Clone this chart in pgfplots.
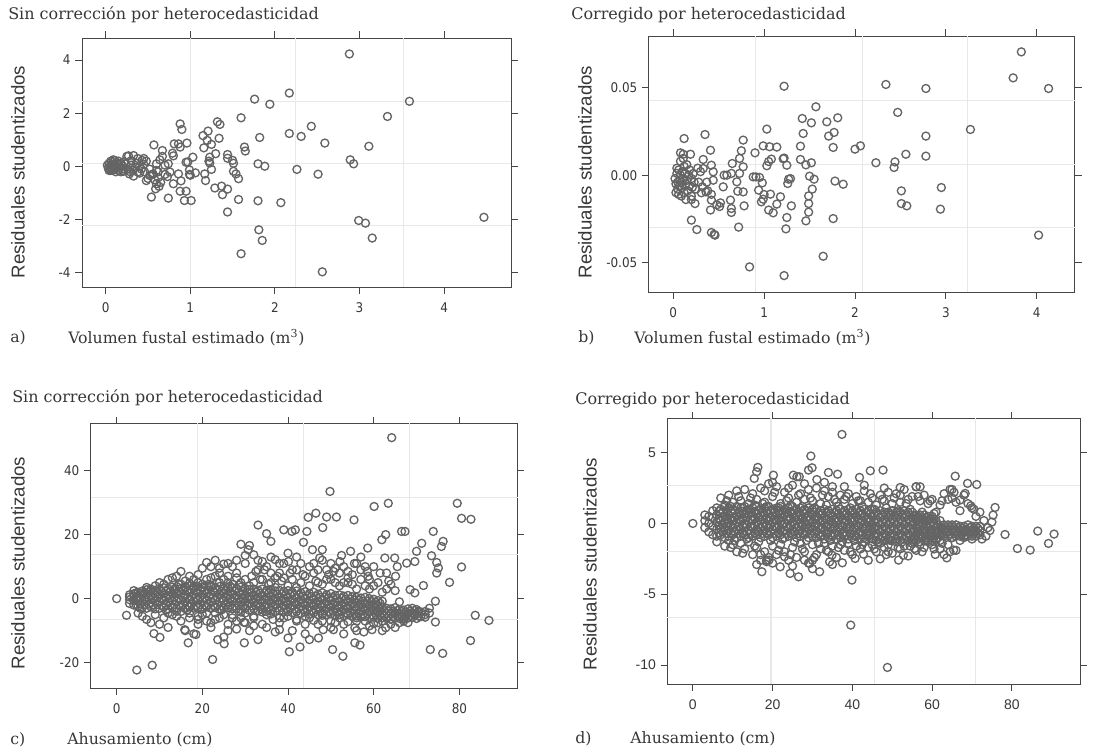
\documentclass[border=0pt]{standalone}
\usepackage{fontspec}
\usepackage{pgfplots}
\pgfplotsset{compat=1.18}
\setmainfont{DejaVu Serif}
\newfontfamily\tickfont{DejaVu Sans Condensed}
\newfontfamily\labfont{Liberation Sans}
\definecolor{mk}{RGB}{100,100,100}
\definecolor{txt}{RGB}{55,55,55}
\definecolor{frame}{RGB}{70,70,70}
\definecolor{gridc}{RGB}{232,232,232}

\pgfplotsset{
  resid/.style={
    scale only axis,
    anchor=south west,
    axis line style={frame, line width=0.7pt},
    tick align=outside,
    tick pos=both,
    xticklabel pos=lower,
    yticklabel pos=left,
    major tick length=5pt,
    every tick/.style={frame, line width=0.7pt},
    /pgf/number format/assume math mode=true,
    ticklabel style={font=\tickfont\fontsize{10}{12}\selectfont, text=txt},
    xticklabel style={yshift=-3pt},
    scaled ticks=false,
    extra x tick labels={},
    extra y tick labels={},
    extra tick style={grid=major, major grid style={gridc, line width=0.8pt}, major tick length=0pt},
    clip=true,
  },
  pts/.style={only marks, mark=o, mark size=3pt, mark options={draw=mk, line width=1pt}},
}

\begin{document}
\begin{tikzpicture}
\path (0pt,0pt) rectangle (835.5pt,564pt);

% ---------- a) volumen, sin correccion
\begin{axis}[resid, at={(61.5pt,348.75pt)}, width=321.75pt, height=186.75pt,
  xmin=-0.28, xmax=4.79, ymin=-4.53, ymax=4.83,
  xtick={0,1,2,3,4}, ytick={-4,-2,0,2,4},
  extra x ticks={1,2.24,3.52}, extra y ticks={-2.22,0.12,2.45}]
\addplot[pts] coordinates {
(0.02,0.05) (0.03,-0.05) (0.04,0.12) (0.05,0.0) (0.05,-0.1) (0.06,0.2) (0.07,0.05) (0.07,-0.08)
(0.08,0.15) (0.09,-0.03) (0.1,0.08) (0.1,-0.12) (0.11,0.22) (0.12,0.0) (0.13,-0.06) (0.14,0.1)
(0.15,-0.15) (0.16,0.05) (0.17,-0.02) (0.18,0.12) (0.19,-0.1) (0.2,0.02) (0.21,-0.18) (0.22,0.18)
(0.06,-0.15) (0.09,0.25) (0.12,-0.2) (0.15,0.2) (0.18,-0.2) (0.04,-0.15)
(0.25,0.38) (0.27,0.4) (0.3,0.22) (0.33,0.41) (0.35,-0.03) (0.28,-0.28) (0.33,-0.36) (0.38,-0.21)
(0.4,-0.25) (0.43,0.23) (0.45,0.08) (0.48,-0.53) (0.52,-0.34) (0.56,-0.28) (0.6,-0.15) (0.26,-0.1)
(0.3,0.05) (0.32,-0.15) (0.36,0.12) (0.4,0.0) (0.42,-0.1) (0.38,0.3) (0.46,-0.2) (0.5,-0.45)
(0.24,0.1) (0.29,-0.2)
(0.55,-0.3) (0.58,-0.5) (0.62,-0.2) (0.62,-0.42) (0.65,-0.6) (0.6,0.1) (0.64,0.25) (0.7,0.05)
(0.7,-0.3) (0.52,-0.1) (0.48,0.2) (0.45,0.3)
(0.57,0.81) (0.67,0.6) (0.67,0.38) (0.79,0.5) (0.8,0.4) (0.81,0.85) (0.86,0.85) (0.88,0.73)
(0.96,0.88) (0.88,1.6) (0.9,1.39) (1.32,1.68) (1.35,1.58) (1.15,1.16) (1.21,1.33) (1.34,1.06)
(1.16,0.7) (1.2,0.98) (1.25,0.83) (1.3,0.48) (1.23,0.35) (1.23,0.13) (1.22,0.2) (1.25,-0.11)
(1.44,0.45) (1.44,0.31) (1.5,0.23) (1.51,0.12) (1.51,-0.18) (1.54,-0.28) (1.57,-0.46) (1.17,-0.28)
(1.18,-0.53) (1.03,0.35) (0.95,0.16) (0.97,0.17) (0.99,-0.13) (0.99,-0.3) (1.06,-0.24) (1.0,-0.33)
(0.86,-0.28) (0.89,-0.54) (0.88,-0.93) (0.95,-0.93) (0.93,-1.28) (1.01,-1.28) (0.8,-0.65) (0.74,-1.19)
(0.54,-1.15) (0.6,-0.65) (0.63,-0.75) (0.59,-0.84) (0.73,-0.38) (0.76,-0.21) (0.74,0.1) (1.29,-0.81)
(1.37,-0.74) (1.38,-1.06) (1.44,-0.85) (1.44,-1.71) (1.57,-1.24) (1.6,1.83) (1.64,0.73) (1.65,0.58)
(1.76,2.53) (1.94,2.34) (2.17,2.76) (2.88,4.23) (3.59,2.45) (3.33,1.88) (2.43,1.51) (2.17,1.24)
(2.31,1.13) (2.59,0.88) (3.11,0.76) (1.82,1.09) (2.89,0.25) (2.93,0.1) (1.8,0.1) (1.88,0.01)
(2.26,-0.11) (2.51,-0.29) (2.07,-1.36) (1.8,-1.29) (1.81,-2.38) (1.85,-2.78) (1.6,-3.28) (2.56,-3.96)
(2.99,-2.03) (3.07,-2.13) (3.15,-2.69) (4.47,-1.91)
};
\end{axis}

% ---------- b) volumen, corregido
\begin{axis}[resid, at={(486.5pt,345pt)}, width=319.7pt, height=192pt,
  xmin=-0.27, xmax=4.42, ymin=-0.067, ymax=0.0798,
  xtick={0,1,2,3,4}, ytick={-0.05,0,0.05},
  yticklabel style={/pgf/number format/.cd, fixed, fixed zerofill, precision=2},
  extra x ticks={0.91,2.08,3.24}, extra y ticks={-0.0302,0.0063,0.0426}]
\addplot[pts] coordinates {
(0.02,-0.002) (0.03,-0.005) (0.04,0.001) (0.05,-0.004) (0.05,-0.008) (0.06,0.003) (0.07,-0.003)
(0.07,-0.006) (0.08,0.0) (0.09,-0.004) (0.1,-0.007) (0.1,0.002) (0.11,-0.002) (0.12,-0.01)
(0.13,0.001) (0.14,-0.005) (0.15,-0.003) (0.16,-0.009) (0.17,0.0) (0.18,-0.006) (0.2,-0.002)
(0.21,-0.007) (0.22,0.001) (0.04,0.004) (0.06,-0.011) (0.08,0.008) (0.09,-0.012) (0.12,0.005)
(0.15,0.006) (0.18,0.003) (0.2,-0.012) (0.23,-0.004) (0.03,-0.01) (0.14,-0.014) (0.11,0.012)
(3.83,0.0707) (3.74,0.0558) (4.13,0.0497) (4.02,-0.0344) (3.27,0.0262) (2.78,0.0497) (2.34,0.052)
(1.22,0.051) (2.47,0.036) (2.78,0.0224) (2.78,0.0109) (2.56,0.012) (2.23,0.0071) (2.44,0.0076)
(2.43,0.0044) (2.95,-0.0071) (2.94,-0.0195) (2.51,-0.009) (2.51,-0.0163) (2.57,-0.0176) (2.0,0.0149)
(2.06,0.0168) (1.81,0.0329) (1.77,0.0245) (1.71,0.0224) (1.69,0.0306) (1.57,0.0392) (1.52,0.03)
(1.42,0.0325) (1.43,0.0239) (1.4,0.0166) (1.4,0.009) (1.46,0.0059) (1.52,0.0071) (1.76,0.0159)
(1.78,-0.0034) (1.87,-0.0052) (1.55,-0.0023) (1.53,-0.008) (1.5,-0.0006) (1.49,-0.0119)
(1.49,-0.0163) (1.49,-0.0212) (1.46,-0.0262) (1.76,-0.0249) (1.65,-0.0465) (1.22,-0.0576)
(0.84,-0.0526) (1.24,-0.0308) (1.25,-0.0243) (1.3,-0.0176) (1.18,-0.0124) (1.14,-0.0166)
(1.1,-0.0216) (1.05,-0.02) (1.07,-0.0109) (1.0,-0.0111) (0.99,-0.0138) (0.97,-0.0153)
(0.94,-0.0086) (0.98,-0.0044) (0.95,-0.0013) (0.88,-0.001) (0.91,-0.001) (1.27,-0.0023)
(1.29,-0.002) (1.26,-0.0048) (1.25,0.0057) (1.21,0.0094) (1.22,0.0098) (1.08,0.0092) (1.03,0.0054)
(1.05,0.0078) (0.99,0.0168) (1.06,0.0163) (1.14,0.0161) (1.03,0.0264) (0.9,0.0128) (0.77,0.0201)
(0.75,0.014) (0.73,0.0096) (0.77,0.0048) (0.73,0.001) (0.7,-0.0038) (0.71,-0.0092) (0.77,-0.0096)
(0.78,-0.0176) (0.72,-0.0298) (0.64,0.001) (0.65,0.0067) (0.59,0.0) (0.56,0.0) (0.55,-0.0067)
(0.63,-0.0143) (0.64,-0.0191) (0.64,-0.0214) (0.52,-0.0159) (0.51,-0.018) (0.48,-0.017)
(0.46,-0.0344) (0.42,-0.0329) (0.45,-0.034) (0.41,-0.02) (0.42,-0.0143) (0.42,-0.011)
(0.44,-0.0029) (0.44,0.0019) (0.42,0.0057) (0.41,0.0143) (0.35,0.0233) (0.33,0.009) (0.33,0.0038)
(0.32,-0.0067) (0.36,-0.0096) (0.38,-0.009) (0.31,-0.0101) (0.26,-0.0312) (0.2,-0.0258)
(0.24,-0.0163) (0.2,-0.014) (0.19,0.012) (0.12,0.021) (0.08,0.0128) (0.11,0.0096)
(0.28,-0.004) (0.3,0.002) (0.25,-0.008) (0.37,-0.004) (0.27,0.004)
};
\end{axis}

% ---------- c) ahusamiento, sin correccion
\begin{axis}[resid, at={(68pt,47.8pt)}, width=320.25pt, height=198.75pt,
  xmin=-6.07, xmax=93.6, ymin=-28, ymax=54.8,
  xtick={0,20,40,60,80}, ytick={-20,0,20,40},
  extra x ticks={18.9,43.6,68.3}, extra y ticks={-6.6,13.9,31.5}]
\addplot[pts] coordinates {
(3,-1.5) (3,0.5) (3,1.2) (3,-0.3) (4,-2.0) (4,-0.5) (4,0.8) (4,1.5) (5,-2.4) (5,-0.8) (5,0.6) (5,2.0)
(6,-2.8) (6,-1.0) (6,1.0) (6,2.4) (7,-3.0) (7,-0.6) (7,1.2) (7,2.8) (8,-2.6) (8,-1.2) (8,0.8) (8,3.0)
(9,-3.2) (9,-0.8) (9,1.0) (9,2.6) (10,-3.0) (10,-1.0) (10,1.3) (10,3.2) (11,-2.6) (11,-0.5) (11,1.6) (11,3.4)
(12,-3.2) (12,-1.0) (12,1.0) (12,3.0) (13,-2.8) (13,-0.6) (13,1.5) (13,3.6) (14,-3.0) (14,-0.8) (14,1.8) (14,3.8)
(15,-2.5) (15,-0.4) (15,1.4) (15,3.2) (16,-3.1) (16,-1.0) (16,1.2) (16,3.6) (17,-2.6) (17,-0.2) (17,1.8) (17,4.0)
(18,-3.0) (18,-0.8) (18,1.5) (18,3.4) (19,-2.8) (19,-0.3) (19,1.8) (19,3.8) (20,-3.2) (20,-0.6) (20,1.2) (20,3.5)
(21,-2.6) (21,-0.4) (21,1.6) (21,4.0) (22,-3.0) (22,-1.0) (22,1.4) (22,3.6) (23,-2.8) (23,-0.5) (23,1.8) (23,3.4)
(24,-3.4) (24,-0.8) (24,1.2) (24,3.8) (25,-3.0) (25,-0.6) (25,1.5) (25,3.2) (26,-2.8) (26,-1.0) (26,1.0) (26,3.6)
(27,-3.2) (27,-0.7) (27,1.4) (27,3.4) (28,-3.0) (28,-1.2) (28,0.9) (28,3.0) (29,-3.4) (29,-0.9) (29,1.2) (29,3.6)
(30,-3.0) (30,-1.0) (30,1.0) (30,3.2) (31,-3.6) (31,-1.4) (31,0.6) (31,2.8) (32,-3.2) (32,-1.2) (32,1.0) (32,3.0)
(33,-3.8) (33,-1.5) (33,0.5) (33,2.6) (34,-3.4) (34,-1.2) (34,0.8) (34,3.0) (35,-4.0) (35,-1.6) (35,0.4) (35,2.6)
(36,-3.6) (36,-1.4) (36,0.6) (36,2.8) (37,-4.0) (37,-1.8) (37,0.2) (37,2.4) (38,-3.8) (38,-1.5) (38,0.5) (38,2.6)
(39,-4.2) (39,-2.0) (39,0.0) (39,2.2) (40,-4.0) (40,-1.8) (40,0.3) (40,2.5) (41,-4.4) (41,-2.2) (41,-0.2) (41,2.0)
(42,-4.0) (42,-1.8) (42,0.2) (42,2.4) (43,-4.6) (43,-2.4) (43,-0.4) (43,1.8) (44,-4.2) (44,-2.0) (44,0.0) (44,2.2)
(45,-4.8) (45,-2.5) (45,-0.5) (45,1.6) (46,-4.4) (46,-2.2) (46,-0.2) (46,2.0) (47,-5.0) (47,-2.8) (47,-0.8) (47,1.4)
(48,-4.6) (48,-2.4) (48,-0.4) (48,1.8) (49,-5.0) (49,-3.0) (49,-1.0) (49,1.2) (50,-4.8) (50,-2.6) (50,-0.6) (50,1.6)
(51,-5.2) (51,-3.2) (51,-1.2) (51,1.0) (52,-5.0) (52,-2.8) (52,-0.8) (52,1.2) (53,-5.4) (53,-3.4) (53,-1.4) (53,0.8)
(54,-5.0) (54,-3.0) (54,-1.0) (54,1.0) (55,-5.6) (55,-3.6) (55,-1.6) (55,0.6) (56,-5.4) (56,-3.4) (56,-1.4) (56,0.4)
(57,-5.8) (57,-3.8) (57,-1.8) (57,0.2) (58,-5.6) (58,-3.6) (58,-1.6) (58,0.4) (59,-6.0) (59,-4.0) (59,-2.0) (59,0.0)
(60,-5.8) (60,-3.8) (60,-2.2) (60,-0.2) (61,-6.2) (61,-4.2) (61,-2.4) (61,-0.6) (62,-6.0) (62,-4.4) (62,-2.6) (62,-0.8)
(63,-6.2) (63,-4.6) (63,-3.0) (64,-6.4) (64,-4.8) (64,-3.2) (65,-6.0) (65,-4.4) (65,-2.8) (66,-6.2) (66,-4.6) (66,-3.4)
(67,-6.4) (67,-5.0) (67,-3.6) (68,-6.0) (68,-4.6) (68,-3.2) (69,-5.8) (69,-4.4) (69,-3.0) (70,-6.2) (70,-4.8) (70,-3.4)
(71,-5.6) (71,-4.2) (72,-5.8) (72,-4.0) (73,-4.5)
(4,2.5) (5,-4.5) (6,-5.5) (7,3.5) (7,-6.5) (8,-7.5) (9,-5) (9,4) (10,-8) (6,1.8) (8,2.5) (10,5) (5.5,-3)
(11,-6) (11,4.5) (12,6) (12,-9) (13,-5) (13,6.5) (14,7) (14,-4) (15,8.5) (15,-7) (16,5.5) (16,-10) (17,7) (17,-6)
(18,-11) (18,6) (19,7.5) (19,-8) (20,9.5) (20,-5) (13.5,3) (16.5,-3.5) (18.5,-2.5) (11.5,-3.5) (14.5,4.5)
(21,11.3) (21,-7) (22,6.5) (22,-9) (23,12) (23,-4.5) (24,8) (24,-6) (25,10.8) (25,-12) (26,5) (26,-8) (27,10) (27,-5)
(28,6.5) (28,-9.5) (29,17) (29,-6) (30,11) (30,-7.5) (21.5,4.5) (23.5,5) (26.5,3.8) (28.5,4.2) (24.5,-3.5)
(31,16.6) (31,-10) (32,13.7) (32,-6) (33,23) (33,-12.8) (34,11.6) (34,-8) (35,20.3) (35,-5) (36,17.9) (36,8)
(37,12.2) (37,-10.4) (38,11) (38,-9.7) (39,21.5) (39,-6) (40,14.2) (40,-12.3) (30.7,15.3) (33.5,6) (35.5,4.5)
(37.5,7) (32.5,8.5) (38.5,5.5) (36.5,-6.5)
(40.3,-16.6) (40.9,21) (41.7,21.5) (40.1,11.6) (42,9) (42.8,-15.1) (43.6,17.6) (44.4,21) (44.7,25.4) (45,-12.8)
(45.7,15.3) (46.5,26.7) (47.1,-12.3) (47.4,12.7) (48.1,22.2) (48.2,-9.7) (49,25.5) (48,15.3) (41,6) (43,5)
(44,-8) (46,8) (47,5) (49,9) (42,-7) (45,-6) (48,-7) (50,6)
(49.8,33.5) (50.6,8.5) (50.6,-9.7) (50.4,-15.9) (51.3,25.5) (52.1,11.6) (52.8,-18) (54.6,14.8) (55.4,24.6)
(55.6,-13.8) (56.8,-14.5) (57.7,-10.4) (55.6,-9.1) (58.6,15.8) (58.7,7) (59.6,-9.7) (53,5) (54,8.5) (56,11)
(57,6) (52,4) (55,4.5) (58,10) (59,3) (53,-8) (56,-7) (60,4) (51,-7.5)
(60.1,28.8) (61.9,18.4) (62.8,20) (62.6,12.7) (62.8,-9.1) (63.4,29.8) (64.2,50.3) (64.9,12.7) (65.1,7) (66.5,21)
(67.3,21) (67.7,11.1) (68.5,2.8) (69.6,1.8) (69.6,11.6) (70,14.8) (61,5) (63,3) (64,-6.5) (66,-5.5) (65,2.5)
(67,-7) (68,-6) (61,-7.5) (63,8) (60.5,-2) (66,-1)
(71.2,17.3) (71.6,4.1) (73.2,-15.9) (73.5,13.4) (73.9,21) (74.4,-0.8) (74.4,-7.3) (74.7,11.3) (75.1,9.6)
(74.7,8) (75.8,16.3) (76.1,-17.1) (76.2,17.9) (77.7,5.1) (79.5,29.8) (80.5,25.1) (80.5,9.9) (82.6,-13.1)
(82.7,24.8) (83.7,-5.2) (86.9,-6.8) (72,-5) (70.5,-4) (73,-3)
(0,0) (2.3,-5.2) (4.7,-22.3) (8.3,-20.8) (22.4,-19) (23.6,-12.8) (25.1,-14.1) (16.7,-13.8) (18.5,-11.2)
(15.9,-9.7) (10.1,-12.1) (8.7,-10.9) (29.8,-13.8) (29.7,-7.4)
(30,6) (31,4) (32,5) (33,9) (34,6) (35,10) (36,5) (37,3.5) (38,8) (39,6.5) (40,4) (41,9) (42,3.5) (43,11) (44,7)
(45,4) (46,11) (47,9) (48,4.5) (49,6) (50,11) (51,5) (52,8) (53,10) (54,5) (55,7.5) (56,3) (57,9) (58,4) (59,6)
(30,-4.5) (32,-5.5) (34,-4.2) (36,-4.8) (38,-6) (40,-5.5) (42,-6.5) (44,-5.5) (46,-6.8) (48,-5.2) (50,-7) (52,-6)
(54,-7.2) (56,-6) (58,-7) (60,-7.8) (62,-7) (64,-8) (66,-7.5) (68,-7.5)
(15,4.5) (16,3.8) (17,4.8) (18,4) (19,5) (20,4.5) (21,6) (22,4) (23,7) (24,5) (25,6) (26,7) (27,4.5) (28,8) (29,5)
(12,-4.5) (14,-5.5) (15,-4) (17,-4.5) (19,-5.5) (21,-4.5) (23,-6.5) (25,-5) (27,-6) (29,-4.2)
(31.5,7) (33,12) (34.5,9) (36,13) (37,6.5) (39,11) (40.5,8) (42,13) (43.5,7.5) (45,10) (46.5,5.5) (48,12)
(49.5,7.5) (51,9.5) (52.5,13.5) (54,6.5) (55.5,11) (57,13) (58.5,8.5) (60,10) (61.5,8) (63.5,5.5) (65.5,10)
(62,2) (64,4.5) (32,-8.5) (35,-9) (38,-7.5) (41,-10) (44,-11) (47,-8) (50,-9) (53,-11) (56,-10) (59,-8.5)
(62,-10) (65,-9) (19,-6.5) (22,-7.5) (26,-10) (28,-7) (24,9.5) (26,11) (28,12) (22,10) (30,13.5)
};
\addplot[pts] coordinates {
(4.5,-1.8) (4.5,0.1) (4.5,1.8) (5.5,-1.6) (5.5,0.2) (5.5,1.6) (6.5,-1.9) (6.5,0.0) (6.5,1.9) (7.5,-1.7) (7.5,0.2) (7.5,2.0)
(8.5,-2.0) (8.5,0.1) (8.5,1.9) (9.5,-1.8) (9.5,0.3) (9.5,2.1) (10.5,-2.1) (10.5,0.2) (10.5,2.2) (11.5,-1.9) (11.5,0.4) (11.5,2.4)
(12.5,-2.0) (12.5,0.3) (12.5,2.2) (13.5,-1.8) (13.5,0.5) (13.5,2.5) (14.5,-2.1) (14.5,0.2) (14.5,2.3) (15.5,-1.9) (15.5,0.4) (15.5,2.6)
(16.5,-2.0) (16.5,0.3) (16.5,2.4) (17.5,-1.7) (17.5,0.6) (17.5,2.7) (18.5,-2.1) (18.5,0.4) (18.5,2.5) (19.5,-1.9) (19.5,0.5) (19.5,2.6)
(20.5,-2.0) (20.5,0.3) (20.5,2.4) (21.5,-1.8) (21.5,0.6) (21.5,2.7) (22.5,-2.1) (22.5,0.3) (22.5,2.4) (23.5,-1.9) (23.5,0.5) (23.5,2.6)
(24.5,-2.2) (24.5,0.2) (24.5,2.3) (25.5,-1.9) (25.5,0.4) (25.5,2.5) (26.5,-2.0) (26.5,0.1) (26.5,2.2) (27.5,-2.2) (27.5,0.3) (27.5,2.4)
(28.5,-2.1) (28.5,0.0) (28.5,2.1) (29.5,-2.3) (29.5,0.2) (29.5,2.3) (30.5,-2.1) (30.5,0.0) (30.5,2.0) (31.5,-2.3) (31.5,-0.2) (31.5,1.9)
(32.5,-2.2) (32.5,-0.1) (32.5,2.0) (33.5,-2.5) (33.5,-0.4) (33.5,1.7) (34.5,-2.4) (34.5,-0.3) (34.5,1.8) (35.5,-2.6) (35.5,-0.5) (35.5,1.6)
(36.5,-2.5) (36.5,-0.4) (36.5,1.7) (37.5,-2.8) (37.5,-0.7) (37.5,1.4) (38.5,-2.7) (38.5,-0.6) (38.5,1.5) (39.5,-3.0) (39.5,-0.9) (39.5,1.2)
(40.5,-2.9) (40.5,-0.8) (40.5,1.3) (41.5,-3.2) (41.5,-1.1) (41.5,1.0) (42.5,-3.1) (42.5,-1.0) (42.5,1.1) (43.5,-3.4) (43.5,-1.3) (43.5,0.8)
(44.5,-3.3) (44.5,-1.2) (44.5,0.9) (45.5,-3.6) (45.5,-1.5) (45.5,0.6) (46.5,-3.5) (46.5,-1.4) (46.5,0.7) (47.5,-3.8) (47.5,-1.7) (47.5,0.4)
(48.5,-3.7) (48.5,-1.6) (48.5,0.5) (49.5,-4.0) (49.5,-1.9) (49.5,0.2) (50.5,-3.9) (50.5,-1.8) (50.5,0.3) (51.5,-4.2) (51.5,-2.1) (51.5,0.0)
(52.5,-4.1) (52.5,-2.0) (52.5,0.1) (53.5,-4.4) (53.5,-2.3) (53.5,-0.2) (54.5,-4.3) (54.5,-2.2) (54.5,-0.1) (55.5,-4.6) (55.5,-2.5) (55.5,-0.4)
(56.5,-4.5) (56.5,-2.5) (56.5,-0.5) (57.5,-4.8) (57.5,-2.8) (57.5,-0.8) (58.5,-4.7) (58.5,-2.7) (58.5,-0.8) (59.5,-5.0) (59.5,-3.0) (59.5,-1.0)
(60.5,-4.9) (60.5,-3.0) (60.5,-1.2) (61.5,-5.2) (61.5,-3.3) (61.5,-1.5) (62.5,-5.4) (62.5,-3.8) (63.5,-5.5) (63.5,-3.9) (64.5,-5.6) (64.5,-4.0)
(65.5,-5.3) (65.5,-3.7) (66.5,-5.5) (66.5,-4.0) (67.5,-5.7) (67.5,-4.3) (68.5,-5.3) (68.5,-3.9) (69.5,-5.1) (69.5,-3.7) (70.5,-5.5) (70.5,-4.1)
};
\end{axis}

% ---------- d) ahusamiento, corregido
\begin{axis}[resid, at={(500.5pt,51pt)}, width=309.5pt, height=199.3pt,
  xmin=-6.4, xmax=97.1, ymin=-11.34, ymax=7.43,
  xtick={0,20,40,60,80}, ytick={-10,-5,0,5},
  ticklabel style={font=\labfont\fontsize{10.5}{12}\selectfont},
  extra x ticks={19.6,45.6,71}, extra y ticks={-6.66,-2.0,2.71}]
\addplot[pts] coordinates {
(3,-0.3) (3,0.2) (3,0.6) (4,-0.6) (4,0.0) (4,0.5) (5,-0.8) (5,-0.2) (5,0.4) (5,0.9)
(6,-0.9) (6,-0.4) (6,0.1) (6,0.6) (6,1.1) (7,-0.8) (7,-0.4) (7,0.2) (7,0.7) (7,1.0)
(8,-1.0) (8,-0.3) (8,0.1) (8,0.5) (8,1.2) (9,-0.9) (9,-0.5) (9,0.0) (9,0.6) (9,1.1)
(10,-0.8) (10,-0.3) (10,0.2) (10,0.7) (10,1.0) (11,-1.0) (11,-0.4) (11,0.1) (11,0.5) (11,1.2)
(12,-0.9) (12,-0.4) (12,0.2) (12,0.6) (12,1.1) (13,-0.8) (13,-0.3) (13,0.0) (13,0.7) (13,1.2)
(14,-1.0) (14,-0.5) (14,0.1) (14,0.6) (14,1.0) (15,-0.9) (15,-0.3) (15,0.2) (15,0.5) (15,1.1)
(16,-0.8) (16,-0.4) (16,0.1) (16,0.7) (16,1.2) (17,-1.0) (17,-0.3) (17,0.2) (17,0.6) (17,1.0)
(18,-0.9) (18,-0.5) (18,0.0) (18,0.6) (18,1.1) (19,-0.8) (19,-0.3) (19,0.2) (19,0.7) (19,1.2)
(20,-1.0) (20,-0.4) (20,0.1) (20,0.5) (20,1.0) (21,-0.9) (21,-0.3) (21,0.2) (21,0.6) (21,1.1)
(22,-0.8) (22,-0.4) (22,0.1) (22,0.7) (22,1.2) (23,-1.0) (23,-0.5) (23,0.0) (23,0.6) (23,1.0)
(24,-0.9) (24,-0.3) (24,0.2) (24,0.5) (24,1.1) (25,-0.8) (25,-0.4) (25,0.1) (25,0.7) (25,1.2)
(26,-1.0) (26,-0.3) (26,0.2) (26,0.6) (26,1.0) (27,-0.9) (27,-0.5) (27,0.0) (27,0.6) (27,1.1)
(28,-0.8) (28,-0.3) (28,0.1) (28,0.7) (28,1.0) (29,-1.0) (29,-0.4) (29,0.2) (29,0.5) (29,1.1)
(30,-0.9) (30,-0.5) (30,0.1) (30,0.6) (30,1.0) (31,-1.0) (31,-0.5) (31,0.0) (31,0.5) (31,1.0)
(32,-0.9) (32,-0.4) (32,0.1) (32,0.6) (32,0.9) (33,-1.1) (33,-0.5) (33,0.0) (33,0.4) (33,1.0)
(34,-1.0) (34,-0.6) (34,-0.1) (34,0.5) (34,0.9) (35,-0.9) (35,-0.4) (35,0.0) (35,0.5) (35,1.0)
(36,-1.1) (36,-0.5) (36,0.1) (36,0.4) (36,0.9) (37,-1.0) (37,-0.5) (37,-0.1) (37,0.5) (37,1.0)
(38,-0.9) (38,-0.6) (38,0.0) (38,0.6) (38,0.9) (39,-1.1) (39,-0.4) (39,0.0) (39,0.5) (39,1.0)
(40,-1.0) (40,-0.5) (40,0.1) (40,0.4) (40,0.9) (41,-0.9) (41,-0.5) (41,-0.1) (41,0.5) (41,1.0)
(42,-1.1) (42,-0.6) (42,0.0) (42,0.6) (42,0.9) (43,-1.0) (43,-0.4) (43,0.0) (43,0.5) (43,1.0)
(44,-0.9) (44,-0.5) (44,0.1) (44,0.4) (44,0.9) (45,-1.1) (45,-0.5) (45,-0.1) (45,0.5) (45,1.0)
(46,-1.2) (46,-0.7) (46,-0.2) (46,0.3) (46,0.8) (47,-1.1) (47,-0.6) (47,-0.1) (47,0.4) (47,0.9)
(48,-1.2) (48,-0.7) (48,-0.2) (48,0.3) (48,0.8) (49,-1.1) (49,-0.6) (49,-0.1) (49,0.4) (49,0.8)
(50,-1.2) (50,-0.7) (50,-0.2) (50,0.3) (50,0.9) (51,-1.1) (51,-0.6) (51,-0.1) (51,0.4) (51,0.8)
(52,-1.2) (52,-0.7) (52,-0.2) (52,0.3) (52,0.8) (53,-1.1) (53,-0.6) (53,-0.1) (53,0.4) (53,0.9)
(54,-1.2) (54,-0.7) (54,-0.2) (54,0.3) (54,0.8) (55,-1.1) (55,-0.6) (55,-0.1) (55,0.4) (55,0.8)
(56,-1.2) (56,-0.8) (56,-0.3) (56,0.2) (56,0.6) (57,-1.3) (57,-0.8) (57,-0.3) (57,0.1) (57,0.6)
(58,-1.2) (58,-0.7) (58,-0.3) (58,0.2) (58,0.6) (59,-1.2) (59,-0.8) (59,-0.3) (59,0.2) (59,0.5)
(60,-1.2) (60,-0.8) (60,-0.4) (60,0.1) (60,0.5) (61,-1.1) (61,-0.7) (61,-0.3) (61,0.2) (62,-1.2) (62,-0.8) (62,-0.3) (62,0.2)
(63,-0.9) (63,-0.5) (63,-0.1) (64,-0.9) (64,-0.5) (64,-0.1) (65,-1.0) (65,-0.5) (65,-0.1) (66,-0.9) (66,-0.5) (66,-0.1)
(67,-0.9) (67,-0.5) (67,-0.2) (68,-1.0) (68,-0.6) (68,-0.2) (69,-0.9) (69,-0.5) (69,-0.1) (70,-0.9) (70,-0.5) (70,-0.2)
(71,-0.9) (71,-0.5) (71,-0.2) (72,-0.8) (72,-0.5) (72,-0.2)
(7,1.8) (8,1.3) (9,2.0) (10,1.5) (11,2.3) (12,1.6) (13,2.4) (14,1.4) (15,2.1) (16,1.7) (17,2.5) (18,1.5) (19,2.8)
(20,1.9) (21,2.6) (22,1.4) (23,2.2) (24,1.8) (25,2.7) (26,1.5) (27,2.1) (28,1.7) (29,2.4) (30,1.6) (31,2.5)
(32,1.4) (33,2.3) (34,1.9) (35,2.2) (36,1.5) (37,2.0) (38,1.7) (39,2.1) (40,1.4) (41,1.9) (42,1.6) (43,2.3)
(44,1.5) (45,1.8) (46,1.3) (47,2.0) (48,1.6) (49,2.2) (50,1.4) (51,2.1) (52,1.5) (53,2.4) (54,1.7) (55,1.9)
(56,2.6) (57,1.6) (58,2.0) (59,1.4) (60,1.7)
(9.5,1.2) (12.5,1.1) (15.5,1.3) (18.5,1.2) (21.5,1.1) (24.5,1.3) (27.5,1.2) (30.5,1.1) (33.5,1.3) (36.5,1.2)
(39.5,1.1) (42.5,1.2) (45.5,1.0) (48.5,1.1) (51.5,0.9) (54.5,1.0) (57.5,0.8) (60.5,0.7)
(6,-1.3) (8,-1.6) (9,-1.2) (10,-1.5) (11,-2.0) (12,-1.4) (13,-1.8) (14,-1.3) (15,-2.2) (16,-1.7) (17,-2.6)
(18,-2.0) (19,-2.4) (20,-1.6) (21,-2.2) (22,-1.5) (23,-2.0) (24,-2.6) (25,-1.7) (26,-2.4) (27,-1.4) (28,-2.0)
(29,-2.8) (30,-1.5) (31,-2.2) (32,-1.8) (33,-1.4) (34,-2.0) (35,-1.6) (36,-2.4) (37,-1.5) (38,-1.9) (39,-1.4)
(40,-2.2) (41,-1.6) (42,-1.8) (43,-1.3) (44,-1.7) (45,-1.5) (46,-2.0) (47,-1.4) (48,-1.7) (49,-1.5) (50,-2.1)
(51,-1.3) (52,-1.8) (53,-1.6) (54,-2.3) (55,-1.4) (56,-1.9) (57,-1.5) (58,-1.7) (59,-1.3) (60,-1.5)
(10.5,-1.2) (13.5,-1.1) (16.5,-1.3) (19.5,-1.2) (22.5,-1.1) (25.5,-1.3) (28.5,-1.2) (31.5,-1.4) (34.5,-1.2)
(37.5,-1.3) (40.5,-1.2) (43.5,-1.1) (46.5,-1.3) (49.5,-1.2) (52.5,-1.3) (55.5,-1.1) (58.5,-1.2)
(61,0.8) (62,1.3) (63,2.1) (64,1.7) (64.5,2.4) (65.5,2.2) (66,1.5) (67,0.9) (68,2.0) (69,1.4) (70,1.1) (71,0.5)
(72,0.8) (73,0.2) (74,-0.3) (75,0.1) (74.5,-0.5) (73.5,-0.9) (72.5,-1.1) (61,-1.2) (62,-1.8) (63,-2.2) (64,-1.5)
(66,-1.9) (67,-1.2) (68,-0.9) (70,-1.1) (71,-0.6) (65,-1.0)
(8.5,1.6) (11.5,1.9) (14.5,1.8) (17.5,1.4) (20.5,2.2) (23.5,1.6) (26.5,2.0) (29.5,1.8) (32.5,2.0) (35.5,1.7)
(38.5,1.9) (41.5,1.6) (44.5,2.1) (47.5,1.7) (50.5,1.8) (53.5,1.4) (56.5,1.9) (59.5,1.6) (62.5,1.6) (65,1.8)
(20,2.9) (24,2.5) (28,2.8) (33,2.9) (38,2.6) (43,2.7) (48,2.5) (18,2.3) (35,2.6) (52,2.0)
(9.5,-1.7) (12.5,-2.1) (15.5,-1.6) (18.5,-2.7) (21.5,-1.9) (24.5,-2.2) (27.5,-1.8) (30.5,-2.4) (33.5,-1.9)
(36.5,-1.7) (39.5,-2.0) (42.5,-1.5) (45.5,-1.8) (48.5,-2.2) (51.5,-1.7) (54.5,-1.6) (57.5,-2.0) (60.5,-1.8)
(16,-2.9) (20,-2.8) (25,-3.0) (30,-3.2) (35,-2.9) (44,-2.6) (47,-2.5) (62.5,-1.4) (64.5,-2.0)
(0,0) (37.4,6.29) (29.6,4.76) (16.3,3.96) (15.4,3.18) (16,3.65) (20.2,3.41) (29,3.77) (29.9,3.93) (31.1,3.1)
(34,3.6) (36.3,3.48) (41.8,3.25) (44.5,3.72) (47.7,3.77) (26.1,3.3) (25.2,3.41) (26.7,3.3) (65.8,3.34)
(68.9,2.83) (71.2,2.75) (56,2.59) (57,2.59) (52,2.54) (65,2.4) (68.3,2.12) (67,1.65) (75.8,1.13) (75.3,0.59)
(69.7,1.25) (70.5,1.0) (78.3,-0.78) (81.4,-1.77) (84.6,-1.88) (86.5,-0.54) (90.6,-0.75) (89.2,-1.41)
(48.8,-10.17) (39.6,-7.18) (39.9,-4.0) (17.3,-3.41) (24.4,-3.53) (26.5,-3.77) (31.8,-3.41) (37.5,-2.78)
(21.9,-3.06) (29.3,-2.83) (30,-2.6) (40.7,-2.47) (42.8,-2.17) (51.6,-2.59) (52.8,-2.24) (60.8,-2.19)
(63.7,-2.43) (65.4,-1.88) (19.1,-2.59) (18.5,-2.6) (17,-2.2) (23,-2.35) (28,-2.59) (34.3,-2.71) (34.9,-2.24)
(49,-2.0) (55.6,-1.77) (55.4,-1.3)
};
\addplot[pts] coordinates {
(6.5,-0.65) (6.5,-0.15) (6.5,0.35) (6.5,0.85) (7.5,-0.6) (7.5,-0.1) (7.5,0.4) (7.5,0.8) (8.5,-0.7) (8.5,-0.2) (8.5,0.3) (8.5,0.9)
(9.5,-0.65) (9.5,-0.15) (9.5,0.35) (9.5,0.85) (10.5,-0.6) (10.5,-0.1) (10.5,0.4) (10.5,0.9) (11.5,-0.7) (11.5,-0.2) (11.5,0.3) (11.5,0.8)
(12.5,-0.65) (12.5,-0.15) (12.5,0.35) (12.5,0.85) (13.5,-0.6) (13.5,-0.1) (13.5,0.4) (13.5,0.9) (14.5,-0.7) (14.5,-0.2) (14.5,0.3) (14.5,0.8)
(15.5,-0.65) (15.5,-0.15) (15.5,0.35) (15.5,0.85) (16.5,-0.6) (16.5,-0.1) (16.5,0.4) (16.5,0.9) (17.5,-0.7) (17.5,-0.2) (17.5,0.3) (17.5,0.8)
(18.5,-0.65) (18.5,-0.15) (18.5,0.35) (18.5,0.85) (19.5,-0.6) (19.5,-0.1) (19.5,0.4) (19.5,0.9) (20.5,-0.7) (20.5,-0.2) (20.5,0.3) (20.5,0.8)
(21.5,-0.65) (21.5,-0.15) (21.5,0.35) (21.5,0.85) (22.5,-0.6) (22.5,-0.1) (22.5,0.4) (22.5,0.9) (23.5,-0.7) (23.5,-0.2) (23.5,0.3) (23.5,0.8)
(24.5,-0.65) (24.5,-0.15) (24.5,0.35) (24.5,0.85) (25.5,-0.6) (25.5,-0.1) (25.5,0.4) (25.5,0.9) (26.5,-0.7) (26.5,-0.2) (26.5,0.3) (26.5,0.8)
(27.5,-0.65) (27.5,-0.15) (27.5,0.35) (27.5,0.85) (28.5,-0.6) (28.5,-0.1) (28.5,0.4) (28.5,0.9) (29.5,-0.7) (29.5,-0.2) (29.5,0.3) (29.5,0.8)
(30.5,-0.7) (30.5,-0.2) (30.5,0.3) (30.5,0.8) (31.5,-0.75) (31.5,-0.25) (31.5,0.25) (31.5,0.75) (32.5,-0.8) (32.5,-0.3) (32.5,0.2) (32.5,0.7)
(33.5,-0.75) (33.5,-0.25) (33.5,0.25) (33.5,0.75) (34.5,-0.8) (34.5,-0.3) (34.5,0.2) (34.5,0.7) (35.5,-0.75) (35.5,-0.25) (35.5,0.25) (35.5,0.75)
(36.5,-0.8) (36.5,-0.3) (36.5,0.2) (36.5,0.7) (37.5,-0.75) (37.5,-0.25) (37.5,0.25) (37.5,0.75) (38.5,-0.8) (38.5,-0.3) (38.5,0.2) (38.5,0.7)
(39.5,-0.75) (39.5,-0.25) (39.5,0.25) (39.5,0.75) (40.5,-0.8) (40.5,-0.3) (40.5,0.2) (40.5,0.7) (41.5,-0.75) (41.5,-0.25) (41.5,0.25) (41.5,0.75)
(42.5,-0.8) (42.5,-0.3) (42.5,0.2) (42.5,0.7) (43.5,-0.75) (43.5,-0.25) (43.5,0.25) (43.5,0.75) (44.5,-0.8) (44.5,-0.3) (44.5,0.2) (44.5,0.7)
(45.5,-0.85) (45.5,-0.35) (45.5,0.15) (45.5,0.65) (46.5,-0.9) (46.5,-0.4) (46.5,0.1) (46.5,0.6) (47.5,-0.9) (47.5,-0.4) (47.5,0.1) (47.5,0.6)
(48.5,-0.9) (48.5,-0.4) (48.5,0.1) (48.5,0.6) (49.5,-0.9) (49.5,-0.4) (49.5,0.1) (49.5,0.6) (50.5,-0.9) (50.5,-0.4) (50.5,0.1) (50.5,0.6)
(51.5,-0.9) (51.5,-0.4) (51.5,0.1) (51.5,0.6) (52.5,-0.9) (52.5,-0.4) (52.5,0.1) (52.5,0.6) (53.5,-0.9) (53.5,-0.4) (53.5,0.1) (53.5,0.6)
(54.5,-0.9) (54.5,-0.4) (54.5,0.1) (54.5,0.6) (55.5,-0.95) (55.5,-0.45) (55.5,0.05) (55.5,0.5) (56.5,-1.0) (56.5,-0.55) (56.5,-0.05) (56.5,0.4)
(57.5,-1.0) (57.5,-0.55) (57.5,-0.05) (57.5,0.4) (58.5,-1.0) (58.5,-0.55) (58.5,-0.05) (58.5,0.4) (59.5,-1.0) (59.5,-0.55) (59.5,-0.05) (59.5,0.35)
(60.5,-1.0) (60.5,-0.55) (60.5,-0.1) (60.5,0.3) (61.5,-1.0) (61.5,-0.55) (61.5,-0.1) (62.5,-0.7) (62.5,-0.3) (63.5,-0.7) (63.5,-0.3)
(64.5,-0.75) (64.5,-0.3) (65.5,-0.7) (65.5,-0.3) (66.5,-0.7) (66.5,-0.3) (67.5,-0.75) (67.5,-0.35) (68.5,-0.8) (68.5,-0.4) (69.5,-0.7) (69.5,-0.3)
(70.5,-0.7) (70.5,-0.35) (71.5,-0.7) (71.5,-0.35)
};
\end{axis}

% ---------- texts
\begin{scope}[every node/.style={inner sep=0pt, text=txt}]
\node[anchor=west] at (6pt,552.75pt) {\fontsize{12}{14}\selectfont Sin corrección por heterocedasticidad};
\node[anchor=west] at (428.25pt,552.75pt) {\fontsize{12}{14}\selectfont Corregido por heterocedasticidad};
\node[anchor=west] at (9pt,265.5pt) {\fontsize{12}{14}\selectfont Sin corrección por heterocedasticidad};
\node[anchor=west] at (431.25pt,264pt) {\fontsize{12}{14}\selectfont Corregido por heterocedasticidad};
\node[rotate=90] at (13.5pt,435pt) {\labfont\fontsize{14}{16}\selectfont Residuales studentizados};
\node[rotate=90] at (438.75pt,435pt) {\labfont\fontsize{14}{16}\selectfont Residuales studentizados};
\node[rotate=90] at (13.5pt,141.75pt) {\labfont\fontsize{14}{16}\selectfont Residuales studentizados};
\node[rotate=90] at (442.5pt,141pt) {\labfont\fontsize{14}{16}\selectfont Residuales studentizados};
\node[anchor=west] at (7.5pt,311pt) {\fontsize{11.8}{13}\selectfont a)};
\node[anchor=west] at (51pt,311pt) {\fontsize{11.8}{13}\selectfont Volumen fustal estimado (m\textsuperscript{3})};
\node[anchor=west] at (433.5pt,311pt) {\fontsize{11.8}{13}\selectfont b)};
\node[anchor=west] at (475.5pt,311pt) {\fontsize{11.8}{13}\selectfont Volumen fustal estimado (m\textsuperscript{3})};
\node[anchor=west] at (7.5pt,9pt) {\fontsize{11.8}{13}\selectfont c)};
\node[anchor=west] at (50.25pt,9pt) {\fontsize{11.8}{13}\selectfont Ahusamiento (cm)};
\node[anchor=west] at (431.25pt,9.75pt) {\fontsize{11.8}{13}\selectfont d)};
\node[anchor=west] at (472.5pt,9.75pt) {\fontsize{11.8}{13}\selectfont Ahusamiento (cm)};
\end{scope}
\end{tikzpicture}
\end{document}
